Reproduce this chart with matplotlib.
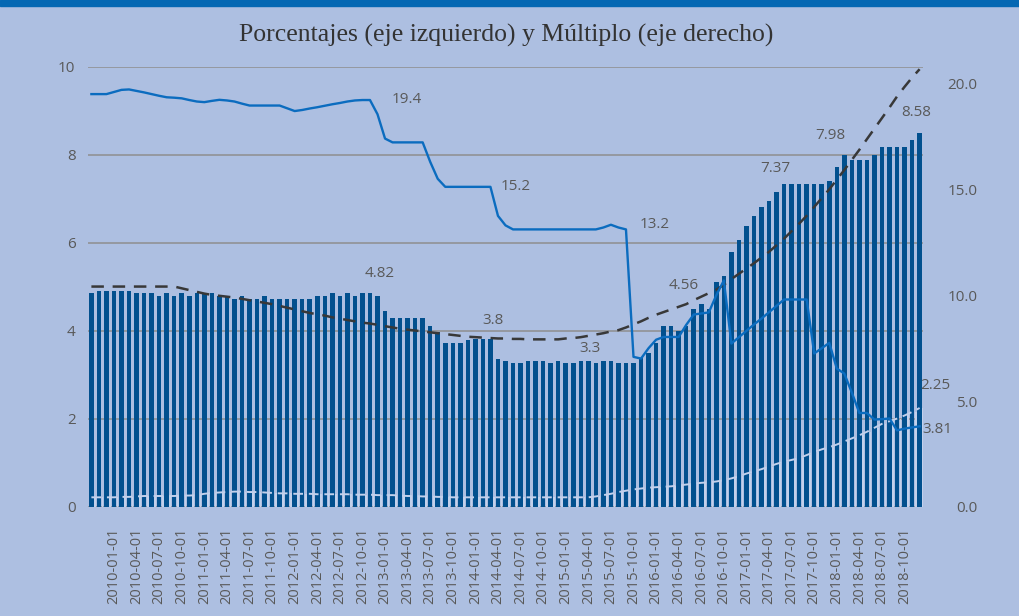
import matplotlib
matplotlib.use("Agg")
import matplotlib.pyplot as plt
import numpy as np
import pandas as pd

# ---------------- data ----------------
months = pd.date_range("2009-10-01", periods=111, freq="MS").strftime("%Y-%m-%d").tolist()

bars = [4.86, 4.91, 4.91, 4.91, 4.91, 4.91, 4.86, 4.86, 4.86, 4.80,
        4.86, 4.80, 4.86, 4.80, 4.86, 4.86, 4.86, 4.80, 4.80, 4.72,
        4.80, 4.72, 4.72, 4.80, 4.72, 4.72, 4.72, 4.72, 4.72, 4.72,
        4.80, 4.80, 4.86, 4.80, 4.86, 4.80, 4.86, 4.86, 4.80, 4.46,
        4.29, 4.29, 4.29, 4.29, 4.29, 4.11, 3.98, 3.72, 3.72, 3.72,
        3.80, 3.81, 3.81, 3.81, 3.36, 3.32, 3.27, 3.27, 3.32, 3.32,
        3.32, 3.27, 3.32, 3.27, 3.27, 3.32, 3.32, 3.27, 3.32, 3.32,
        3.27, 3.27, 3.27, 3.38, 3.49, 3.72, 4.11, 4.11, 4.00, 4.11,
        4.50, 4.61, 4.50, 5.12, 5.26, 5.79, 6.07, 6.39, 6.61, 6.81,
        6.96, 7.16, 7.34, 7.34, 7.34, 7.34, 7.34, 7.34, 7.42, 7.72,
        8.01, 7.88, 7.88, 7.88, 8.01, 8.18, 8.18, 8.18, 8.18, 8.34,
        8.49]

multiple = [19.50, 19.50, 19.50, 19.60, 19.70, 19.72, 19.65, 19.58, 19.50, 19.42,
            19.35, 19.33, 19.30, 19.22, 19.15, 19.12, 19.18, 19.23, 19.20, 19.15,
            19.05, 18.96, 18.96, 18.96, 18.96, 18.96, 18.83, 18.70, 18.75, 18.82,
            18.88, 18.95, 19.02, 19.08, 19.15, 19.20, 19.22, 19.22, 18.55, 17.40,
            17.22, 17.22, 17.22, 17.22, 17.22, 16.30, 15.50, 15.12, 15.12, 15.12,
            15.12, 15.12, 15.12, 15.12, 13.75, 13.30, 13.11, 13.11, 13.11, 13.11,
            13.11, 13.11, 13.11, 13.11, 13.11, 13.11, 13.11, 13.11, 13.20, 13.33,
            13.20, 13.11, 7.09, 7.01, 7.50, 7.90, 8.03, 8.03, 8.03, 8.60,
            9.09, 9.14, 9.19, 10.00, 10.70, 7.72, 8.02, 8.32, 8.62, 8.90,
            9.20, 9.50, 9.80, 9.80, 9.80, 9.80, 7.25, 7.50, 7.75, 6.54,
            6.30, 5.40, 4.44, 4.44, 4.13, 4.15, 4.18, 3.62, 3.70, 3.76,
            3.81]

trend = [5.01, 5.01, 5.01, 5.01, 5.01, 5.01, 5.01, 5.01, 5.01, 5.01,
         5.01, 5.01, 4.97, 4.93, 4.89, 4.85, 4.82, 4.80, 4.78, 4.76,
         4.73, 4.70, 4.67, 4.64, 4.61, 4.57, 4.53, 4.49, 4.45, 4.41,
         4.38, 4.35, 4.31, 4.28, 4.25, 4.22, 4.19, 4.17, 4.14, 4.11,
         4.08, 4.05, 4.03, 4.01, 3.99, 3.97, 3.95, 3.93, 3.91, 3.89,
         3.87, 3.86, 3.85, 3.84, 3.83, 3.83, 3.82, 3.82, 3.81, 3.81,
         3.81, 3.81, 3.81, 3.83, 3.84, 3.86, 3.89, 3.92, 3.95, 3.99,
         4.02, 4.08, 4.15, 4.22, 4.30, 4.37, 4.43, 4.49, 4.55, 4.61,
         4.70, 4.78, 4.86, 4.94, 5.05, 5.18, 5.30, 5.42, 5.54, 5.67,
         5.80, 5.95, 6.10, 6.27, 6.44, 6.62, 6.82, 7.02, 7.22, 7.44,
         7.66, 7.89, 8.12, 8.36, 8.60, 8.84, 9.08, 9.33, 9.55, 9.76,
         9.95]

light = [0.22, 0.22, 0.22, 0.22, 0.23, 0.23, 0.24, 0.25, 0.25, 0.25,
         0.25, 0.25, 0.26, 0.26, 0.27, 0.30, 0.32, 0.33, 0.34, 0.35,
         0.35, 0.34, 0.34, 0.33, 0.32, 0.31, 0.31, 0.30, 0.30, 0.30,
         0.29, 0.29, 0.29, 0.29, 0.29, 0.28, 0.28, 0.28, 0.27, 0.27,
         0.27, 0.26, 0.25, 0.25, 0.24, 0.24, 0.23, 0.23, 0.22, 0.22,
         0.22, 0.22, 0.22, 0.22, 0.22, 0.22, 0.22, 0.22, 0.22, 0.22,
         0.22, 0.22, 0.22, 0.22, 0.22, 0.22, 0.22, 0.24, 0.27, 0.30,
         0.34, 0.37, 0.40, 0.42, 0.44, 0.45, 0.46, 0.47, 0.49, 0.51,
         0.53, 0.55, 0.56, 0.58, 0.61, 0.65, 0.70, 0.76, 0.81, 0.86,
         0.92, 0.98, 1.03, 1.07, 1.11, 1.18, 1.25, 1.31, 1.36, 1.42,
         1.49, 1.56, 1.63, 1.71, 1.80, 1.89, 1.95, 2.01, 2.08, 2.16,
         2.25]

title = "Porcentajes (eje izquierdo) y Múltiplo (eje derecho)"
left_ticks = [0, 2, 4, 6, 8, 10]
right_ticks = [0, 5, 10, 15, 20]

# annotations: (text, month index, left-axis height)
labels = [("4.82", 38.3, 5.30), ("19.4", 41.9, 9.27), ("15.2", 56.3, 7.28),
          ("13.2", 74.8, 6.42), ("3.8", 53.3, 4.23), ("3.3", 66.2, 3.61),
          ("4.56", 78.6, 5.03), ("7.37", 90.8, 7.70), ("7.98", 98.2, 8.45),
          ("8.58", 109.5, 8.96), ("2.25", 112.1, 2.76), ("3.81", 112.3, 1.77)]

# ---------------- style ----------------
BG = "#adbfe1"
BAR = "#02508e"
LINE = "#0b6cbf"
GRID = "#8e8e8e"
TXT = "#595959"
LIGHT = "#c3d1ec"

fig = plt.figure(figsize=(10.19, 6.16), dpi=100, facecolor=BG)
# top band
fig.patches.append(plt.Rectangle((0, 1 - 6 / 616), 1, 6 / 616, transform=fig.transFigure,
                                 color="#0568b3", zorder=0))

ax = fig.add_axes([88 / 1019, 109 / 616, 835 / 1019, 440 / 616])
ax.set_facecolor("none")
x = np.arange(len(months))

for yv in left_ticks:
    ax.axhline(yv, color=GRID, lw=1.1, zorder=0)

ax.bar(x, bars, width=0.6, color=BAR, zorder=2)
ax.bar(x + 0.48, light, width=0.22, color=LIGHT, zorder=3)
ax.plot(x, light, color=LIGHT, lw=1.4, dashes=(5, 3), zorder=4)
ax.plot(x, trend, color="#383838", lw=1.8, dashes=(5, 3.5), zorder=4)

ax.set_xlim(-0.45, len(months) - 0.55)
ax.set_ylim(0, 10)
ax.set_yticks(left_ticks)
ax.set_yticklabels([str(t) for t in left_ticks])
tick_idx = list(range(3, len(months), 3))
ax.set_xticks(tick_idx)
ax.set_xticklabels([months[i] for i in tick_idx], rotation=90)
ax.tick_params(axis="x", length=0, pad=15, labelsize=10.5, labelcolor=TXT)
ax.tick_params(axis="y", length=0, pad=9, labelsize=11, labelcolor=TXT)
for lab in ax.get_xticklabels() + ax.get_yticklabels():
    lab.set_family("Open Sans")
for s in ax.spines.values():
    s.set_visible(False)

ax2 = ax.twinx()
ax2.set_ylim(0, 20.78)
ax2.plot(x, multiple, color=LINE, lw=1.7, zorder=5)
ax2.set_yticks(right_ticks)
ax2.set_yticklabels([f"{t:.1f}" for t in right_ticks])
ax2.tick_params(axis="y", length=0, pad=39, labelsize=11, labelcolor=TXT)
for lab in ax2.get_yticklabels():
    lab.set_family("Open Sans")
    lab.set_horizontalalignment("right")
for s in ax2.spines.values():
    s.set_visible(False)

for txt, xi, yv in labels:
    ax.text(xi, yv, txt, ha="center", va="center", fontsize=11, color=TXT,
            family="Open Sans", clip_on=False, zorder=6)

fig.text(0.497, 0.942, title, ha="center", va="center", fontsize=18.5,
         family="Liberation Serif", color="#333333")

fig.savefig("out.png", dpi=100, facecolor=BG)
